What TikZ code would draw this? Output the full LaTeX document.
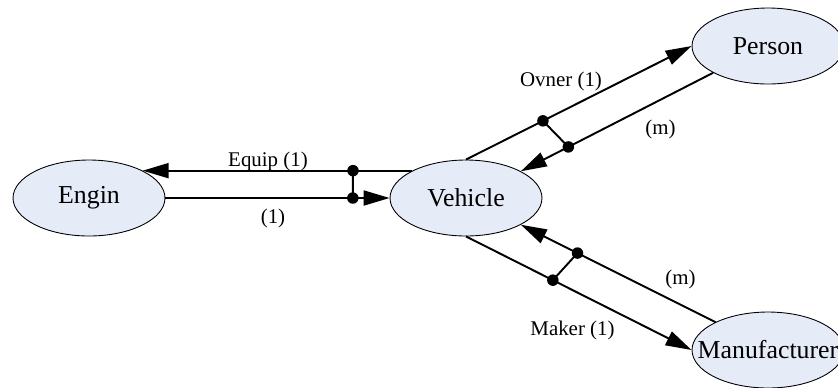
\documentclass[tikz,border=0pt]{standalone}
\usepackage{fontspec}
\setmainfont{Liberation Serif}
\usepackage{tikz}
\usetikzlibrary{arrows.meta,shapes.geometric}
\definecolor{entityfill}{HTML}{E6ECF7}
\tikzset{
  entity/.style={draw=black,fill=entityfill,ellipse,line width=0.5pt,
    minimum width=3.04cm,minimum height=1.52cm,inner sep=0pt,
    font=\fontsize{14.7}{17}\selectfont},
  link/.style={-{Triangle[length=0.52cm,width=0.3cm]},line width=1.1pt},
  junction/.style={line width=1.1pt},
  tag/.style={font=\fontsize{11.9}{14}\selectfont,inner sep=0pt}
}

\begin{document}
\begin{tikzpicture}[x=0.02cm,y=-0.02cm]
  \useasboundingbox (0,0) rectangle (838,387);
  % entities
  \node[entity] (engin) at (89,198) {Engin};
  \node[entity] (vehicle) at (466,198) {Vehicle};
  \node[entity] (person) at (768,46) {Person};
  \node[entity] (manuf) at (768,350) {\makebox[0pt]{Manufacturer}};
  % relations, one pair per entity
  \draw[link] (vehicle.153) -- coordinate[pos=0.22] (j1) (engin.27);
  \draw[link] (engin.east) -- coordinate[pos=0.836] (j2) (vehicle.west);
  \draw[link] (vehicle.north) -- coordinate[pos=0.341] (j3) (person.west);
  \draw[link] (person.206) -- coordinate[pos=0.753] (j4) (vehicle.26.6);
  \draw[link] (manuf.152) -- coordinate[pos=0.709] (j5) (vehicle.334);
  \draw[link] (vehicle.south) -- coordinate[pos=0.385] (j6) (manuf.west);
  \draw[junction] (j1) -- (j2);
  \draw[junction] (j3) -- (j4);
  \draw[junction] (j5) -- (j6);
  \foreach \j in {j1,j2,j3,j4,j5,j6}
    \fill (\j) circle[radius=0.115cm];
  % labels
  \node[tag] (equip) at (268,161.5) {Equip (1)};
  \node[tag] (equipback) at (273,218) {(1)};
  \node[tag] (owner) at (561,81.5) {Ovner (1)};
  \node[tag] (ownerback) at (660.5,129) {(m)};
  \node[tag] (makerback) at (680.5,279.5) {(m)};
  \node[tag] (maker) at (572.5,330.5) {Maker (1)};
\end{tikzpicture}
\end{document}
